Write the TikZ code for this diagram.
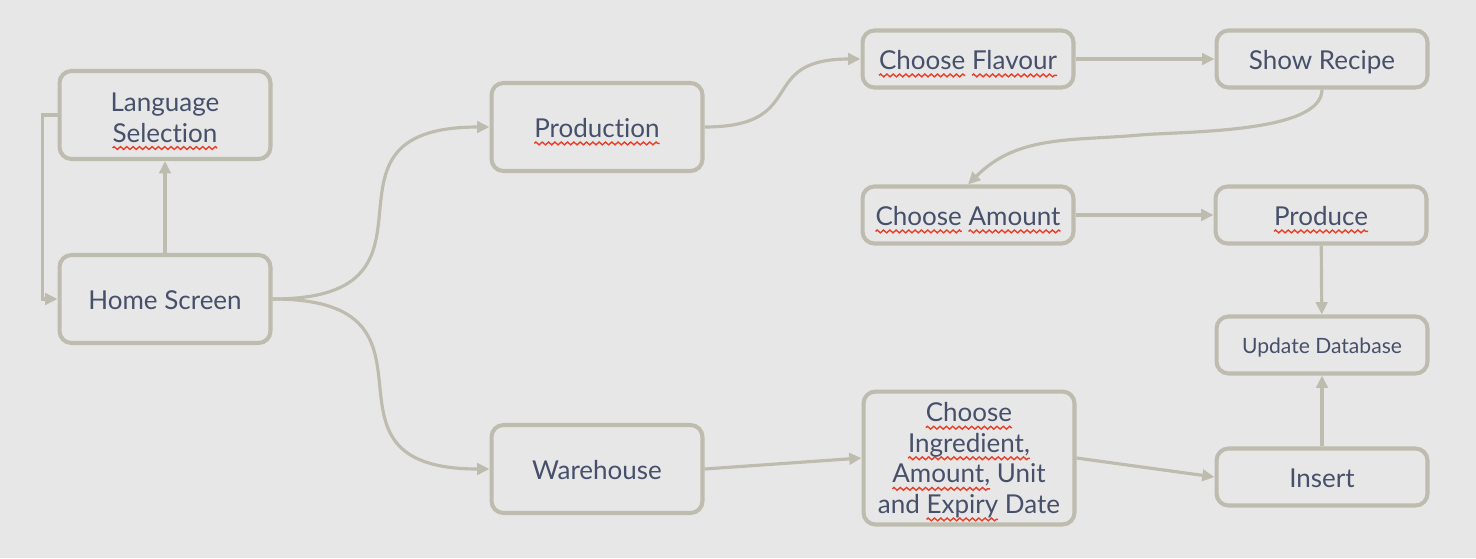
\documentclass[tikz,border=0pt]{standalone}
\usepackage{fontspec}
\setmainfont{Lato}[Ligatures=NoCommon]
\usetikzlibrary{arrows.meta,decorations.pathmorphing}

\definecolor{bggray}{HTML}{E7E7E7}
\definecolor{linegray}{HTML}{BDBCAF}
\definecolor{textgray}{HTML}{47506A}
\definecolor{spellred}{HTML}{E8402A}

\tikzset{
  box/.style={draw=linegray, line width=2.3pt, rounded corners=6.8pt,
    minimum width=4.22cm, text=textgray, align=center,
    font=\fontsize{14.8}{17.4}\selectfont},
  single/.style={text height=15.1pt, text depth=3.2pt},
  bigbox/.style={box, single, minimum height=1.76cm},
  smallbox/.style={box, single, minimum height=1.14cm},
  flow/.style={draw=linegray, line width=1.8pt,
    -{Triangle[length=7pt,width=6.5pt]}}
}

% red wavy spell-check underline
\newsavebox{\spellbox}
\newcommand{\spell}[1]{\sbox{\spellbox}{#1}%
  \tikz[overlay, baseline=0pt, sharp corners]
    \draw[spellred, line width=0.8pt, decorate,
      decoration={zigzag, amplitude=0.8pt, segment length=3.6pt}]
      (0pt,-3.4pt) -- (\the\wd\spellbox,-3.4pt);%
  \usebox{\spellbox}}

\begin{document}
\begin{tikzpicture}[x=0.02cm, y=-0.02cm]
    \fill[bggray] (0,0) rectangle (1476,558);
    \useasboundingbox (0,0) rectangle (1476,558);

    % left column
    \node[box, minimum height=1.76cm] (lang) at (165,115)
        {\rule{0pt}{13.5pt}Language\\\spell{Selection}};
    \node[bigbox] (home) at (165,299) {Home Screen};

    % middle column
    \node[bigbox] (prod) at (597,127) {\spell{Production}};
    \node[bigbox] (ware) at (597,469) {Warehouse};

    % production branch
    \node[smallbox] (flavour) at (968,59) {\spell{Choose} \spell{Flavour}};
    \node[smallbox] (recipe) at (1322,59) {Show Recipe};
    \node[smallbox] (amount) at (968,215) {\spell{Choose} \spell{Amount}};
    \node[smallbox] (produce) at (1321,215) {\spell{Produce}};
    \node[smallbox, font=\fontsize{12}{14}\selectfont, text height=13pt, text depth=3pt]
        (update) at (1322,345) {Update Database};

    % warehouse branch
    \node[box, minimum height=2.66cm, text depth=-2pt] (ingr) at (969,458)
        {\spell{Choose}\\\spell{Ingredient,}\\\spell{Amount,} Unit\\and \spell{Expiry} Date};
    \node[smallbox] (insert) at (1322,477) {Insert};

    \coordinate (bend) at (1140,135);

    % connectors
    \draw[flow] (home) -- (lang);
    \draw[flow] (lang.west) -- ++(-15,0) |- (home.west);
    \draw[flow] (home.east) to[out=0, in=180, looseness=1.8] (prod.west);
    \draw[flow] (home.east) to[out=0, in=180, looseness=1.8] (ware.west);
    \draw[flow] (prod.east) to[out=0, in=180, looseness=1.6] (flavour.west);
    \draw[flow] (flavour) -- (recipe);
    \draw[flow] (recipe.south) to[out=-90, in=5, looseness=0.6] (bend)
        to[out=185, in=45] (amount.north);
    \draw[flow] (amount) -- (produce);
    \draw[flow] (produce) -- (update);
    \draw[flow] (ware.east) -- (ingr.west);
    \draw[flow] (ingr.east) -- (insert.west);
    \draw[flow] (insert) -- (update);
\end{tikzpicture}
\end{document}
